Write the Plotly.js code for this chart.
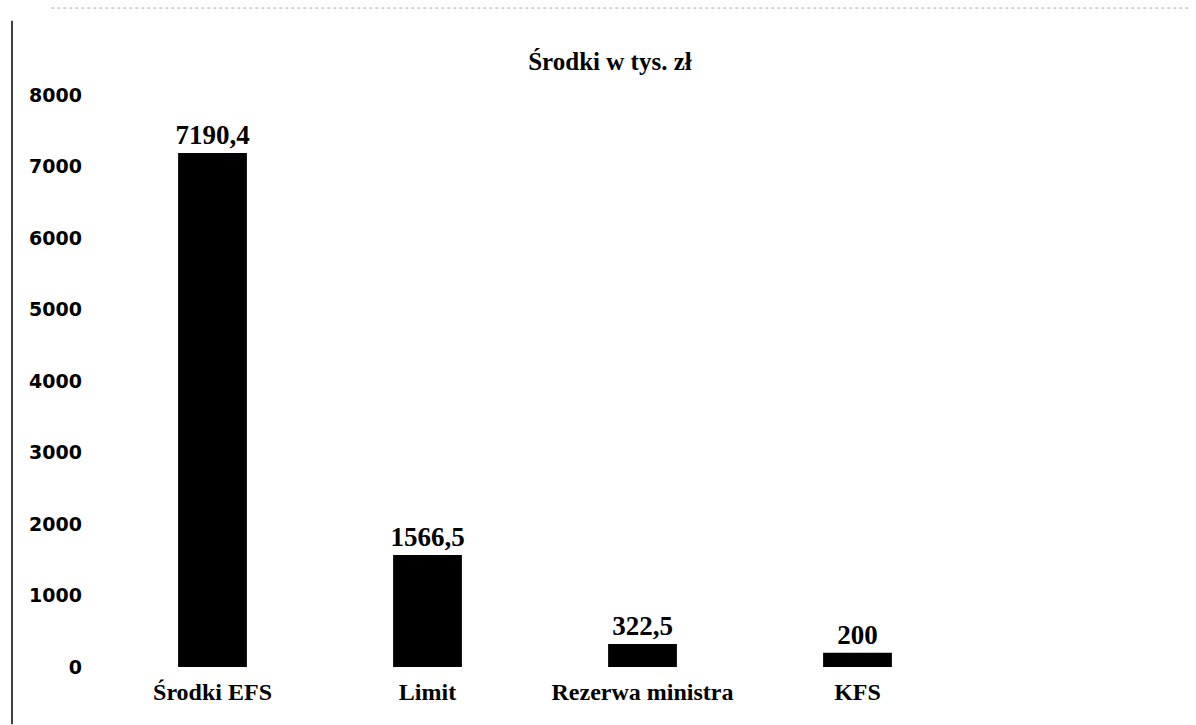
<!DOCTYPE html>
<html>
<head>
<meta charset="utf-8">
<script src="https://cdn.plot.ly/plotly-3.0.1.min.js"></script>
<style>
  html, body { margin: 0; padding: 0; background: #fff; }
  #chart { width: 1196px; height: 725px; }
</style>
</head>
<body>
<div id="chart"></div>
<script>
var categories = ['Środki EFS', 'Limit', 'Rezerwa ministra', 'KFS'];
var values = [7190.4, 1566.5, 322.5, 200];
var yTicks = [0, 1000, 2000, 3000, 4000, 5000, 6000, 7000, 8000];

// polish decimal comma for the labels
var labels = values.map(function (v) { return String(v).replace('.', ','); });

var serif = 'Liberation Serif';

var trace = {
  x: categories.map(function (c) { return '<b>' + c + '</b>'; }),
  y: values,
  type: 'bar',
  width: 0.32,
  marker: {color: '#000000'},
  text: labels.map(function (l) { return '<b>' + l + '</b>'; }),
  textposition: 'outside',
  constraintext: 'none',
  cliponaxis: false,
  textfont: {family: serif, size: 27, color: '#000'},
  hoverinfo: 'x+y'
};

var layout = {
  width: 1196,
  height: 725,
  margin: {l: 105, r: 16, t: 95, b: 58},
  paper_bgcolor: '#ffffff',
  plot_bgcolor: '#ffffff',
  showlegend: false,
  font: {family: serif, color: '#000'},
  title: {
    text: '<b>Środki w tys. zł</b>',
    font: {family: serif, size: 25, color: '#000'},
    x: 0.51, xanchor: 'center',
    y: 0.915, yanchor: 'middle'
  },
  xaxis: {
    type: 'category',
    range: [-0.5, 4.5],
    showgrid: false,
    showline: false,
    zeroline: false,
    ticks: '',
    tickfont: {family: serif, size: 24, color: '#000'},
    ticklabelstandoff: 8
  },
  yaxis: {
    range: [0, 8000],
    tickvals: yTicks,
    ticktext: yTicks.map(function (t) { return '<b>' + t + '</b>'; }),
    showgrid: false,
    showline: false,
    zeroline: false,
    ticks: '',
    ticklabelstandoff: 22,
    tickfont: {family: 'DejaVu Sans', size: 19, color: '#000'}
  },
  shapes: [
    {type: 'line', xref: 'paper', yref: 'paper', x0: -0.0865, x1: -0.0865, y0: -0.1, y1: 1.13,
     line: {color: '#000', width: 1.5}},
    {type: 'line', xref: 'paper', yref: 'paper', x0: -0.05, x1: 1.01, y0: 1.152, y1: 1.152,
     line: {color: '#aaa', width: 1, dash: 'dot'}}
  ]
};

Plotly.newPlot('chart', [trace], layout, {displayModeBar: false, staticPlot: true});
</script>
</body>
</html>
